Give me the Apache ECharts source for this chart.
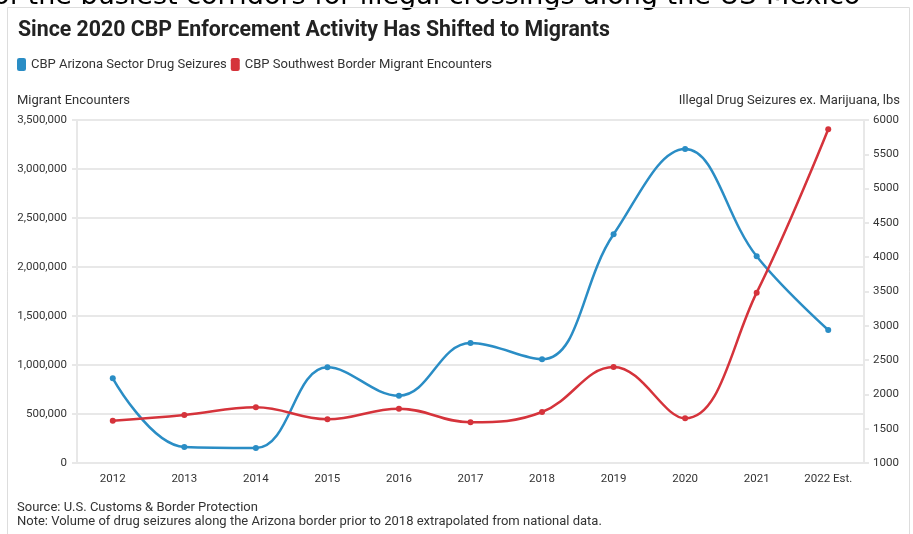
<!DOCTYPE html>
<html>
<head>
<meta charset="utf-8">
<script src="https://cdn.jsdelivr.net/npm/echarts@6/dist/echarts.min.js"></script>
<style>
  html, body { margin: 0; padding: 0; background: #fff; }
  #chart { width: 913px; height: 534px; }
</style>
</head>
<body>
<div id="chart"></div>
<script>
// Fiscal years on the x axis
const years = ['2012', '2013', '2014', '2015', '2016', '2017', '2018', '2019', '2020', '2021', '2022 Est.'];

// Arizona sector drug seizures excluding marijuana (lbs) – right axis
const drugSeizures = [2235, 1233, 1219, 2395, 1981, 2749, 2512, 4334, 5577, 4013, 2939];

// Southwest border migrant encounters – left axis
const migrantEncounters = [430000, 490000, 568000, 446000, 554000, 415000, 520000, 980000, 456000, 1738000, 3405000];

const BLUE = '#2a8dc5';
const RED = '#d5333b';
const GRID = '#e8e8e8';
const TEXT = '#333333';
const FONT = 'Roboto';

const chart = echarts.init(document.getElementById('chart'), null, { renderer: 'canvas' });

chart.setOption({
  animation: false,
  backgroundColor: '#ffffff',
  textStyle: { fontFamily: FONT },
  title: {
    text: 'Since 2020 CBP Enforcement Activity Has Shifted to Migrants',
    left: 13,
    top: 15,
    textStyle: { fontFamily: FONT, fontSize: 21.3, fontWeight: 'bold', color: '#222222' }
  },
  legend: {
    left: 12,
    top: 53,
    itemWidth: 9,
    itemHeight: 13,
    itemGap: 4,
    icon: 'roundRect',
    textStyle: { fontFamily: FONT, fontSize: 13, color: TEXT },
    data: ['CBP Arizona Sector Drug Seizures', 'CBP Southwest Border Migrant Encounters']
  },
  graphic: [
    {
      // tail of the preceding paragraph, partly above the page edge
      type: 'text',
      x: -7,
      y: 10,
      silent: true,
      style: {
        text: 'of the busiest corridors for illegal crossings along the US-Mexico',
        font: '27px "DejaVu Sans"',
        fill: '#000000',
        verticalAlign: 'bottom'
      }
    },
    {
      type: 'rect',
      silent: true,
      shape: { x: 7.5, y: 7.5, width: 902, height: 560 },
      style: { fill: 'none', stroke: '#dddddd', lineWidth: 1 }
    },
    {
      type: 'text', left: 17, top: 94, silent: true,
      style: { text: 'Migrant Encounters', font: '13px Roboto', fill: TEXT }
    },
    {
      type: 'text', right: 13, top: 94, silent: true,
      style: { text: 'Illegal Drug Seizures ex. Marijuana, lbs', font: '13px Roboto', fill: TEXT }
    },
    {
      type: 'text', left: 17, top: 501, silent: true,
      style: { text: 'Source: U.S. Customs & Border Protection', font: '13px Roboto', fill: TEXT }
    },
    {
      type: 'text', left: 17, top: 515, silent: true,
      style: { text: 'Note: Volume of drug seizures along the Arizona border prior to 2018 extrapolated from national data.', font: '13px Roboto', fill: TEXT }
    }
  ],
  grid: { left: 77, right: 49, top: 120, bottom: 71, containLabel: false },
  xAxis: {
    type: 'category',
    data: years,
    boundaryGap: true,
    axisLine: { lineStyle: { color: GRID, width: 2 } },
    axisTick: { alignWithLabel: true, length: 5, lineStyle: { color: GRID, width: 2 } },
    axisLabel: { color: TEXT, fontSize: 11.5, margin: 10, fontFamily: FONT },
    splitLine: { show: false }
  },
  yAxis: [
    {
      type: 'value',
      position: 'left',
      min: 0,
      max: 3500000,
      interval: 500000,
      axisLine: { show: true, lineStyle: { color: GRID, width: 2 } },
      axisTick: { show: true, length: 5, lineStyle: { color: GRID, width: 2 } },
      axisLabel: {
        color: TEXT, fontSize: 11.5, margin: 10, fontFamily: FONT,
        formatter: v => v.toLocaleString('en-US')
      },
      splitLine: { show: true, lineStyle: { color: GRID, width: 2 } }
    },
    {
      type: 'value',
      position: 'right',
      min: 1000,
      max: 6000,
      interval: 500,
      axisLine: { show: true, lineStyle: { color: GRID, width: 2 } },
      axisTick: { show: true, length: 5, lineStyle: { color: GRID, width: 2 } },
      axisLabel: { color: TEXT, fontSize: 11.5, margin: 9, fontFamily: FONT, formatter: v => String(v) },
      splitLine: { show: false }
    }
  ],
  series: [
    {
      name: 'CBP Arizona Sector Drug Seizures',
      type: 'line',
      yAxisIndex: 1,
      data: drugSeizures,
      smooth: 0.4,
      symbol: 'circle',
      symbolSize: 6,
      itemStyle: { color: BLUE },
      lineStyle: { color: BLUE, width: 2.5 }
    },
    {
      name: 'CBP Southwest Border Migrant Encounters',
      type: 'line',
      yAxisIndex: 0,
      data: migrantEncounters,
      smooth: 0.4,
      symbol: 'circle',
      symbolSize: 6,
      itemStyle: { color: RED },
      lineStyle: { color: RED, width: 2.5 }
    }
  ]
});
</script>
</body>
</html>
